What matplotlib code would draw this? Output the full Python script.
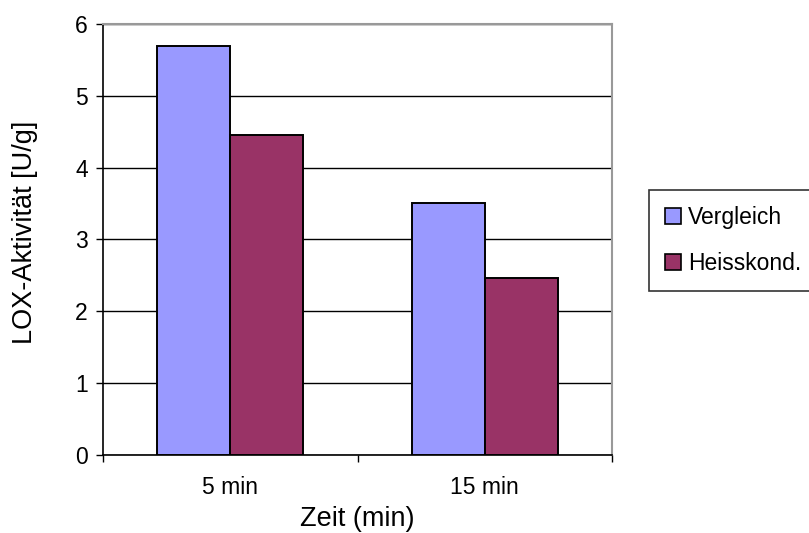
import matplotlib
matplotlib.use("Agg")
import matplotlib.pyplot as plt
import numpy as np
from matplotlib.patches import Patch

categories = ["5 min", "15 min"]
vergleich = [5.7, 3.51]
heisskond = [4.46, 2.47]
series_names = ["Vergleich", "Heisskond."]
colors = ["#9999FF", "#993366"]

plt.rcParams['font.family'] = ['Liberation Sans', 'DejaVu Sans']

W, H = 809, 533
fig = plt.figure(figsize=(W / 100, H / 100), dpi=100)
L, R, T, B = 103, 612, 24, 455
ax = fig.add_axes([L / W, (H - B) / H, (R - L) / W, (B - T) / H])

x = np.arange(len(categories))
w = 0.287
ax.bar(x - w/2, vergleich, w, color=colors[0], edgecolor="black", linewidth=1.4, zorder=3)
ax.bar(x + w/2, heisskond, w, color=colors[1], edgecolor="black", linewidth=1.4, zorder=3)

ax.set_xlim(-0.5, len(categories) - 0.5)
ax.set_ylim(0, 6)
ax.set_yticks(range(0, 7))
ax.yaxis.grid(True, color="black", linewidth=1.0, zorder=0)
ax.set_axisbelow(True)
ax.set_xticks([-0.5, 0.5, 1.5])
ax.set_xticklabels([])
ax.set_xticks(x, minor=True)
ax.set_xticklabels(categories, minor=True)
ax.tick_params(axis='x', which='minor', length=0, pad=15, labelsize=16.5)
ax.tick_params(axis='x', which='major', length=5, direction='out', width=1)
ax.tick_params(axis='y', length=5, direction='out', width=1, labelsize=16.5, pad=6)

for s in ['top', 'right']:
    ax.spines[s].set_color('#999999')
    ax.spines[s].set_linewidth(1.5)
for s in ['left', 'bottom']:
    ax.spines[s].set_color('black')
    ax.spines[s].set_linewidth(1.2)

fig.text(357.5 / W, 1 - 526 / H, "Zeit (min)", fontsize=19.5, ha='center', va='baseline')
fig.text(25 / W, 1 - 232 / H, "LOX-Aktivität [U/g]", fontsize=19.5, ha='center', va='center',
         rotation=90)

handles = [Patch(facecolor=c, edgecolor='black', linewidth=1.2) for c in colors]
leg = fig.legend(handles, series_names, loc='upper left', bbox_to_anchor=(649 / W, 1 - 190 / H),
                 fontsize=16.5, frameon=True, fancybox=False, edgecolor='black',
                 handlelength=0.7, handleheight=0.7, handletextpad=0.3, borderpad=0.7,
                 labelspacing=1.0, borderaxespad=0)
leg.get_frame().set_linewidth(1.2)

fig.savefig("out.png", dpi=100)
